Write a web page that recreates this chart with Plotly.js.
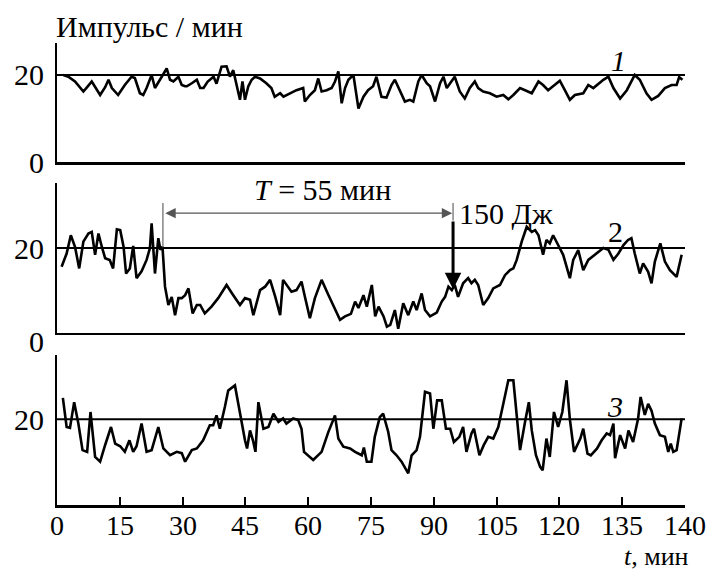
<!DOCTYPE html>
<html><head><meta charset="utf-8">
<script src="https://cdn.plot.ly/plotly-3.0.1.min.js"></script>
<style>html,body{margin:0;padding:0;background:#fff}</style>
</head><body>
<div id="chart" style="width:708px;height:571px"></div>
<script>
// ---- data (t in axis units, pulses per minute) ----
const t1 = [1.5,2.7,4.3,6.3,7.2,8.3,10.3,11.5,12.3,13.1,14.6,16.2,17.8,18.6,19.8,20.6,21.4,21.8,22.6,23.4,24.6,25.4,26.2,27,27.8,29,29.8,30.6,31,32.2,33.4,34.2,35,36,37.4,38.1,38.9,39.3,40.5,41.3,42.1,42.9,43.7,44.3,44.9,45.7,46.5,47.3,48.5,50,51.2,52,53.3,54.1,55.6,57.2,58.8,59.2,60.4,61.6,62.4,63.2,64.4,65.6,66.4,67.2,68,68.8,69.6,70.8,72,73.2,74.3,75.5,76.3,77.5,78.7,79.9,80.7,81.9,83.1,84.3,85.1,86.3,87.1,88.3,89.1,90.3,91.5,92.3,93.1,93.9,95,96.2,97.4,98.6,99.8,100.6,101.8,103.4,105,106.6,107.8,109,110.6,111.8,113.4,115,116.1,117.3,118.5,120.1,121.3,122.5,123.7,125.7,126.9,128.1,130.5,131.7,132.9,134.5,136.1,138,139.2,140.8,142,143.6,145.2,146.8,148,148.6,149.4];
const p1 = [20,19.6,18.5,16.2,17.2,18.5,15.4,17.2,18.9,17,15.4,17.7,19.6,19.3,15.8,15.4,17,18,20,17,18.9,20,21.5,18.9,18.5,19.6,17.7,17.4,17.4,18.1,18.9,17,17,18.5,19.6,18,20.8,21.9,22,19.6,21.1,17.4,14.3,18.5,14.3,17.4,18.9,19.6,19.2,18.1,17,15,15.8,15,15.8,16.5,17,13.9,15.4,16.5,19.2,16.2,16.5,17,18.5,20.8,13.5,17,18.9,20,12.3,15,16.5,17.4,19.6,15,14.8,17.7,18.9,16.5,13.9,14.3,13.9,18.5,20,18.1,17.4,13.9,18.1,19.6,17,18.1,19.6,16.2,14.6,17,18.5,17,16.2,15.8,15,15.4,14.4,15.4,17,16.5,15.8,18.5,17.7,16.5,17.4,18.7,16.5,14.3,15.4,15.8,17.7,17,18.9,19.6,17,14.6,16.5,20,18.9,15.8,14.3,15.2,17,17.7,17.7,19.5,18.9];

const t2 = [1.1,2.3,3.3,4.3,5.3,6.3,7.5,8.3,9.1,9.9,10.7,11.5,12.6,13.4,14.3,15.1,15.9,16.5,17.4,18.2,19,20.2,21.4,22.2,22.6,23.4,24.2,24.7,25.2,25.8,26.6,27.4,28.2,29,29.8,30.6,31.4,32.4,33.4,34.2,35.3,36.9,38.5,40.5,42.1,43.7,44.9,46.1,46.9,48.5,49.7,50.9,52.1,53.3,54,56,57.2,58.4,59.2,60.4,61.6,63.2,64.8,66,67.6,68.8,70.2,71.2,72,73.2,74,75.2,76,76.8,78,78.8,79.6,80.7,81.5,82.7,83.9,85.1,85.9,87.1,87.9,89.1,90.7,91.9,92.7,93.5,94.3,95,95.8,97,98.2,99,99.8,100.6,101.8,103,104.2,105.8,107,108.2,109,109.8,111,112.2,113.4,114.2,115,116.1,116.9,117.7,118.5,119.7,120.9,122.5,123.3,124.5,125.7,126.9,128.5,129.7,130.5,131.7,132.9,134.1,135.3,136.4,137.2,138,139.2,140,141.2,142,142.8,144.1,145.2,146.4,148,149.2];
const p2 = [15.6,18.7,23,20.3,15.2,21.5,23.4,23.8,18.4,23.4,20.3,17.6,17.2,15.2,24.4,24.2,20.3,14,15.2,20.5,12.9,14.5,17.2,20,25.8,14,22.3,19.6,20.3,10.9,6.6,8.5,4.2,8.2,8.2,8.9,10.5,4.6,6.6,6.6,4.6,6.2,8.2,11.3,8.9,6.6,8.2,7.8,4.2,10.1,10.9,12.5,8.6,4.2,12.5,9.7,10.1,12.1,8.6,3.5,8.2,12.5,9,6.6,3.1,3.9,4.5,7.4,5.9,8.9,6.2,11.3,3.9,6.2,3.9,1.5,1.9,5.4,1,7,4.2,7.4,5.4,9.3,5.4,3.9,4.8,7.4,8.5,10.9,10.1,11.3,8.5,11.7,12.9,11.7,12.5,11.3,6.6,8.2,10.5,11.3,13.6,14.8,15.2,17.2,21.5,25,23.8,24.2,23,18.4,21.9,21.1,23,20.7,18.4,12.9,17.2,19.5,14.8,17.2,18.4,19.2,20,19.6,17.2,18.7,20.7,21.9,22.3,18.7,14,16.4,14.4,11.7,16.8,21.1,16.8,14.8,13.2,18.4];

const t3 = [1.4,2.3,3.1,4.1,5.1,6.1,7.2,8,9.1,10.3,11.5,12.9,13.9,15.1,16.2,17.3,18.2,19,20.2,21.4,22.6,24.2,25.4,27,28.6,29.8,30.6,32.2,33.4,34.9,36.5,37.3,38.1,38.9,40.1,40.9,42.5,43.7,44.9,45.4,46.1,46.8,47.4,48.1,49.3,50.5,51.7,52.9,54,54.8,56.4,57.6,58.4,59,61.2,63.2,64.8,66.4,67.2,68.4,70,71.2,72.8,73.3,74,75.1,75.9,77.1,77.9,79.1,79.9,81.1,82.3,83.9,84.7,85.9,86.7,87.9,89.1,89.9,90.8,91.9,92.9,93.9,94.8,96.1,97,97.8,99,99.6,100.9,101.9,103,104.2,105.4,106.6,107.8,109,110.6,111.8,112.7,113.4,114.4,115.4,116,116.9,117.7,118.7,119.7,120.7,121.7,122.5,123.5,125,125.7,126.7,127.5,129,130.1,131.3,132.1,132.9,133.3,134.5,135.7,136.5,137.6,138.8,139.4,140.4,141.2,142,142.8,144,145.2,146,146.6,147.2,148,149.2];
const p3 = [25,18.2,18,24,19,12.8,12.4,21.7,11.2,10.1,14,18.2,14.3,13.7,12.4,15.1,12.4,13.7,19,12.4,12.8,18.2,13.2,11.6,12.4,12.1,10.1,12.8,13.2,15.1,18.6,18.6,20.9,17.8,22.9,26.7,27.9,21.3,15.1,13.2,17.4,15.1,12.4,24,17.8,18.2,21.3,19.4,20.2,19,20.2,19.8,17.8,12.4,10.5,12.4,17,20.9,15.5,13.6,13.2,12.4,11.6,13.4,10.1,10.1,15.9,20.5,21.3,17.1,12.8,11.6,10.1,7.4,11.6,12.8,15.9,26.4,26,17.8,24.4,24.4,17.8,17.8,14.7,15.9,18.2,12.4,16.7,17.8,11.6,13.9,15.9,15.5,18.2,23.6,29.1,29.1,12.8,19.4,24,17.4,11.6,8.9,8.1,15.5,11.2,21.7,18.2,21.7,29.1,20,12.4,15.5,17.8,12,11.6,13.2,15.1,16.7,16.3,19,10.9,16.3,13.2,17.4,14.7,20.2,25.2,21,23.6,22,19,16.3,15.9,12.4,14.3,12.4,12.8,20.2];

const xTickVals = [0,15,30,45,60,75,90,105,120,135,150];
const xTickText = ["0","15","30","45","60","75","90","105","120","135","140"];
const yTickVals1 = [0,20];
const yTickVals2 = [0,20];
const yTickVals3 = [20];
const refLevel = 20;

// ---- rendering ----
const FONT = "Liberation Serif, serif";
const FS = 30;
const lineStyle = {color:"#000", width:2.6};
const traces = [
  {x:t1, y:p1, xaxis:"x", yaxis:"y", mode:"lines", line:lineStyle, hoverinfo:"skip"},
  {x:t2, y:p2, xaxis:"x2", yaxis:"y2", mode:"lines", line:lineStyle, hoverinfo:"skip"},
  {x:t3, y:p3, xaxis:"x3", yaxis:"y3", mode:"lines", line:lineStyle, hoverinfo:"skip"}
];

const baseX = {range:[0,150], showgrid:false, zeroline:false, showline:true, linewidth:2.5, linecolor:"#000", fixedrange:true, showticklabels:false};
const baseY = {showgrid:false, zeroline:false, showline:true, linewidth:2.5, linecolor:"#000", ticks:"", showticklabels:false, fixedrange:true};

const txt = (o, size) => Object.assign({showarrow:false, font:{family:FONT, size:size || FS, color:"#000"}}, o);

const annotations = [];
// y tick labels (drawn as text at the axis values)
[["x","y",yTickVals1,0],["x2","y2",yTickVals2,-9],["x3","y3",yTickVals3,0]].forEach(([xa,ya,vals,zeroShift]) => {
  vals.forEach(v => annotations.push(txt({xref:xa+" domain", yref:ya, x:0, y:v, xanchor:"right", yanchor:"middle",
    xshift:-11, yshift:(v===0 ? zeroShift : 0), text:String(v)})));
});
// x tick labels
xTickVals.forEach((v,i) => annotations.push(txt({xref:"x3", yref:"y3 domain", x:v, y:0, xanchor:"center", yanchor:"top", yshift:-3, text:xTickText[i]}, 28)));

annotations.push(
  txt({xref:"x domain", yref:"y domain", x:0, y:1, xanchor:"left", yanchor:"bottom", xshift:-3, yshift:-2, text:"Импульс / мин"}),
  txt({xref:"x3 domain", yref:"y3 domain", x:1, y:0, xanchor:"right", yanchor:"top", xshift:6, yshift:-35, text:"<i>t</i>, мин"}, 26),
  txt({xref:"x", yref:"y", x:134.2, y:23.4, text:"<i>1</i>"}),
  txt({xref:"x2", yref:"y2", x:133.3, y:24, text:"2"}),
  txt({xref:"x3", yref:"y3", x:133.3, y:23, text:"<i>3</i>"}),
  txt({xref:"x2", yref:"y2", x:63.5, y:33.8, text:"<i>T</i> = 55 мин"}),
  txt({xref:"x2", yref:"y2", x:95.6, y:28.2, xanchor:"left", text:"150 Дж"}),
  {xref:"x2", yref:"y2", axref:"x2", ayref:"y2", x:94.4, y:28.2, ax:25.5, ay:28.2, text:"", showarrow:true,
   arrowhead:2, startarrowhead:2, arrowside:"end+start", arrowsize:1.6, startarrowsize:1.6, arrowwidth:1.3, arrowcolor:"#555"},
  {xref:"x2", yref:"y2", axref:"x2", ayref:"y2", x:94.6, y:10.3, ax:94.6, ay:26.6, text:"", showarrow:true,
   arrowhead:2, arrowsize:1.1, arrowwidth:3, arrowcolor:"#000"}
);

const layout = {
  width:708, height:571,
  margin:{l:57, r:23, t:43, b:66},
  paper_bgcolor:"#fff", plot_bgcolor:"#fff",
  showlegend:false,
  font:{family:FONT, color:"#000"},
  xaxis: Object.assign({}, baseX, {anchor:"y", ticks:""}),
  xaxis2: Object.assign({}, baseX, {anchor:"y2", ticks:""}),
  xaxis3: Object.assign({}, baseX, {anchor:"y3", ticks:"inside", ticklen:8, tickwidth:2, tickcolor:"#000", tickvals:xTickVals}),
  yaxis: Object.assign({}, baseY, {domain:[0.7424,1], range:[0,27.35], anchor:"x"}),
  yaxis2: Object.assign({}, baseY, {domain:[0.3723,0.697], range:[0,35.3], anchor:"x2"}),
  yaxis3: Object.assign({}, baseY, {domain:[0,0.3247], range:[0,35], anchor:"x3"}),
  shapes: [
    {type:"line", xref:"x", yref:"y", x0:0, x1:150, y0:refLevel, y1:refLevel, line:{color:"#000", width:2}},
    {type:"line", xref:"x2", yref:"y2", x0:0, x1:150, y0:refLevel, y1:refLevel, line:{color:"#000", width:2}},
    {type:"line", xref:"x3", yref:"y3", x0:0, x1:150, y0:refLevel, y1:refLevel, line:{color:"#000", width:2}},
    {type:"line", xref:"x2", yref:"y2", x0:25.3, x1:25.3, y0:30.6, y1:20.2, line:{color:"#666", width:1.2}},
    {type:"line", xref:"x2", yref:"y2", x0:94.6, x1:94.6, y0:30.6, y1:26.5, line:{color:"#666", width:1.2}}
  ],
  annotations: annotations
};

Plotly.newPlot("chart", traces, layout, {staticPlot:true, displayModeBar:false});
</script>
</body></html>
